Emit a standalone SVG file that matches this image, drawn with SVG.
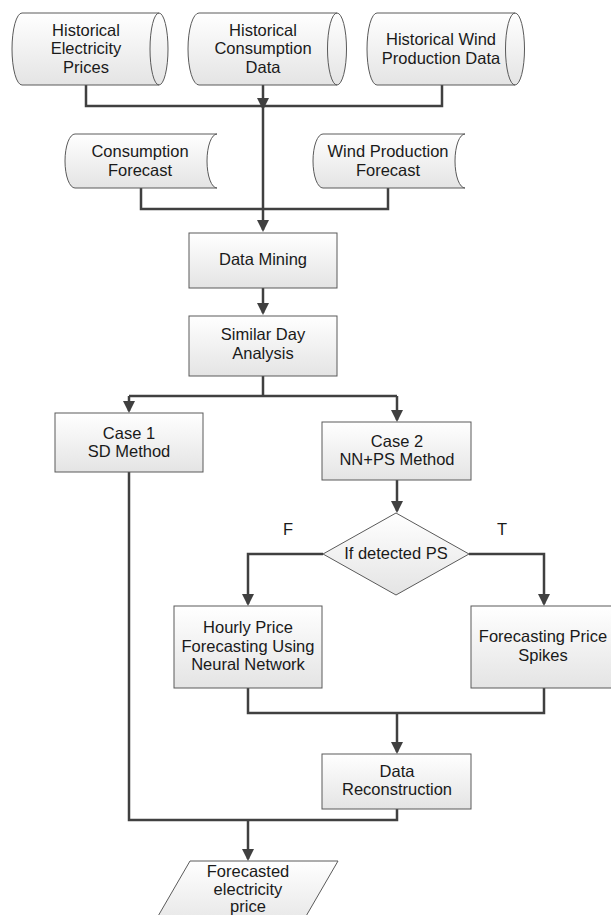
<svg xmlns="http://www.w3.org/2000/svg" width="611" height="915" viewBox="0 0 611 915">
<style>
.shape{fill:url(#g);stroke:#5a5a5a;stroke-width:1}
.inner{fill:none;stroke:#5a5a5a;stroke-width:1}
.conn{fill:none;stroke:#404040;stroke-width:2.5}
.arr{marker-end:url(#ah)}
text{font-family:"Liberation Sans",Arial,sans-serif;font-size:16.5px;fill:#1a1a1a;text-anchor:middle}
</style>
<defs>
<linearGradient id="g" x1="0" y1="0" x2="0" y2="1">
<stop offset="0" stop-color="#ffffff"/>
<stop offset="1" stop-color="#e4e4e4"/>
</linearGradient>
<marker id="ah" markerUnits="userSpaceOnUse" markerWidth="12" markerHeight="12" refX="10" refY="6" orient="auto">
<path d="M0,0 L12,6 L0,12 Z" fill="#404040"/>
</marker>
</defs>
<rect width="611" height="915" fill="#ffffff"/>

<g id="connectors">
<path class="conn" d="M86,85 V106 H442 V85"/>
<path class="conn arr" d="M263,85 V108"/>
<path class="conn arr" d="M263,106 V230"/>
<path class="conn" d="M141,188 V209 H388 V188"/>
<path class="conn arr" d="M263,288 V313"/>
<path class="conn" d="M263,376 V396 M129,396 H397"/>
<path class="conn arr" d="M129,396 V411"/>
<path class="conn arr" d="M397,396 V420"/>
<path class="conn arr" d="M397,480 V511"/>
<path class="conn arr" d="M323,554 H248 V604"/>
<path class="conn arr" d="M469,554 H544 V604"/>
<path class="conn" d="M248,688 V713 H544 V688"/>
<path class="conn arr" d="M397,713 V752"/>
<path class="conn" d="M397,809 V820 H129 V472"/>
<path class="conn arr" d="M248,820 V859"/>
</g>

<g id="hist-prices">
<path class="shape" d="M22,13 H159 A9,36 0 0 1 159,85 H22 A10,36 0 0 1 22,13 Z"/>
<path class="inner" d="M159,13 A9,36 0 0 0 159,85"/>
<text x="86" y="35.5">Historical</text>
<text x="86" y="54">Electricity</text>
<text x="86" y="72.5">Prices</text>
</g>

<g id="hist-consumption">
<path class="shape" d="M199,13 H337 A9.5,36 0 0 1 337,85 H199 A11,36 0 0 1 199,13 Z"/>
<path class="inner" d="M337,13 A9.5,36 0 0 0 337,85"/>
<text x="263" y="35.5">Historical</text>
<text x="263" y="54">Consumption</text>
<text x="263" y="72.5">Data</text>
</g>

<g id="hist-wind">
<path class="shape" d="M377,13 H515 A9.5,36 0 0 1 515,85 H377 A10,36 0 0 1 377,13 Z"/>
<path class="inner" d="M515,13 A9.5,36 0 0 0 515,85"/>
<text x="441" y="45">Historical Wind</text>
<text x="441" y="63.5">Production Data</text>
</g>

<g id="consumption-forecast">
<path class="shape" d="M75,134 H217 A10,27 0 0 0 217,188 H75 A10,27 0 0 1 75,134 Z"/>
<text x="140" y="157">Consumption</text>
<text x="140" y="176">Forecast</text>
</g>

<g id="wind-forecast">
<path class="shape" d="M323,134 H465 A10,27 0 0 0 465,188 H323 A10,27 0 0 1 323,134 Z"/>
<text x="388" y="157">Wind Production</text>
<text x="388" y="176">Forecast</text>
</g>

<g id="data-mining">
<rect class="shape" x="189" y="233" width="148" height="55"/>
<text x="263" y="265">Data Mining</text>
</g>

<g id="similar-day">
<rect class="shape" x="189" y="316" width="148" height="60"/>
<text x="263" y="340">Similar Day</text>
<text x="263" y="358.5">Analysis</text>
</g>

<g id="case1">
<rect class="shape" x="55" y="413" width="148" height="59"/>
<text x="129" y="439">Case 1</text>
<text x="129" y="457">SD Method</text>
</g>

<g id="case2">
<rect class="shape" x="322" y="422" width="149" height="58"/>
<text x="397" y="447">Case 2</text>
<text x="397" y="465">NN+PS Method</text>
</g>

<g id="decision">
<path class="shape" d="M396,513 L469,554 L396,595 L323,554 Z"/>
<text x="396" y="559">If detected PS</text>
</g>
<g id="label-F"><text x="288" y="535">F</text></g>
<g id="label-T"><text x="502" y="535">T</text></g>

<g id="hourly">
<rect class="shape" x="174" y="606" width="148" height="82"/>
<text x="248" y="633">Hourly Price</text>
<text x="248" y="651.5">Forecasting Using</text>
<text x="248" y="670">Neural Network</text>
</g>

<g id="spikes">
<rect class="shape" x="471" y="606" width="150" height="82"/>
<text x="543" y="642">Forecasting Price</text>
<text x="543" y="660.5">Spikes</text>
</g>

<g id="reconstruction">
<rect class="shape" x="322" y="754" width="149" height="55"/>
<text x="397" y="777">Data</text>
<text x="397" y="795">Reconstruction</text>
</g>

<g id="output">
<path class="shape" d="M190,861 H338 L298,930 H150 Z"/>
<text x="248" y="877">Forecasted</text>
<text x="248" y="895">electricity</text>
<text x="248" y="912">price</text>
</g>
</svg>
